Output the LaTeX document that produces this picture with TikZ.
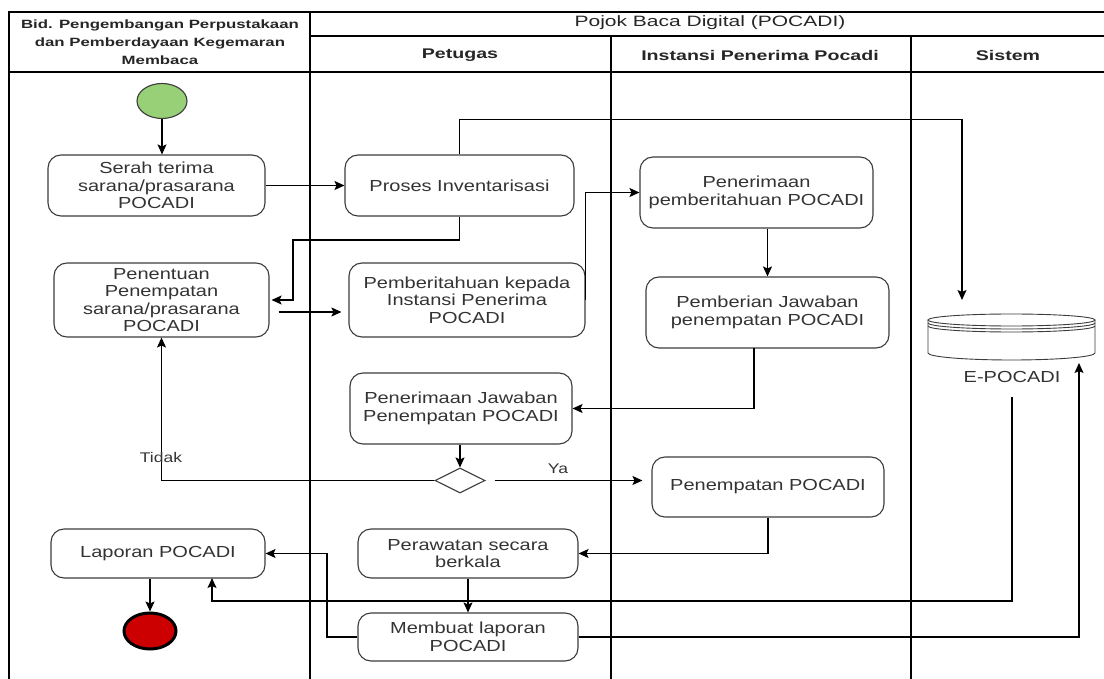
\documentclass[tikz,border=0pt]{standalone}
\usepackage{fontspec}
\setmainfont{Liberation Sans}[FakeStretch=1.25]
\newfontfamily\hdrfont{Liberation Sans}[FakeStretch=1.4]
\usetikzlibrary{arrows.meta,shapes.geometric,calc}
\definecolor{txt}{HTML}{333333}
\definecolor{bord}{HTML}{3C3C3C}
\definecolor{startg}{HTML}{97D077}
\definecolor{endr}{HTML}{CC0000}
\begin{document}
\begin{tikzpicture}[x=1pt,y=-1pt,
  lane/.style={line width=1.4pt, draw=black},
  box/.style={draw=bord, line width=1.1pt, rounded corners=13pt, align=center, text=txt, inner sep=0pt, font=\fontsize{16}{17.6}\selectfont},
  con/.style={line width=1.1pt, draw=black},
  arr/.style={con, -{Stealth[length=10pt,width=9pt,inset=2pt]}},
  lbl/.style={text=txt, font=\fontsize{14}{16}\selectfont, inner sep=1pt},
  hdr/.style={text=black!85, align=center, inner sep=0pt},
  dbline/.style={draw=bord, line width=0.9pt}
]
\path[use as bounding box] (0,0) rectangle (1104,679);

% swimlanes
\draw[lane] (9,679) -- (9,12) -- (1104,12);
\draw[lane] (310,12) -- (310,679);
\draw[lane] (611,36) -- (611,679);
\draw[lane] (911,36) -- (911,679);
\draw[lane] (310,36) -- (1104,36);
\draw[lane] (9,72) -- (1104,72);

\node[hdr, font=\hdrfont\bfseries\fontsize{12}{18}\selectfont] (hbid) at (160,42) {Bid. Pengembangan Perpustakaan\\dan Pemberdayaan Kegemaran\\Membaca};
\node[hdr, font=\hdrfont\fontsize{15}{16}\selectfont] (hpojok) at (710,23) {Pojok Baca Digital (POCADI)};
\node[hdr, font=\hdrfont\bfseries\fontsize{14}{16}\selectfont] (hpetugas) at (460,55) {Petugas};
\node[hdr, font=\hdrfont\bfseries\fontsize{14}{16}\selectfont] (hinstansi) at (760,55) {Instansi Penerima Pocadi};
\node[hdr, font=\hdrfont\bfseries\fontsize{14}{16}\selectfont] (hsistem) at (1008,55) {Sistem};

% start / end
\node[ellipse, draw=bord, line width=1.1pt, fill=startg, minimum width=50pt, minimum height=35pt, inner sep=0pt] (start) at (162,101) {};
\node[ellipse, draw=black, line width=3pt, fill=endr, minimum width=52pt, minimum height=36pt, inner sep=0pt] (end) at (150,631) {};

% activities
\node[box, minimum width=217pt, minimum height=61pt] (serah) at (156.5,185.5) {Serah terima\\sarana/prasarana\\POCADI};
\node[box, minimum width=229pt, minimum height=61pt] (proses) at (459.5,185.5) {Proses Inventarisasi};
\node[box, minimum width=233pt, minimum height=71pt] (pp) at (756.5,192.5) {Penerimaan\\pemberitahuan POCADI};
\node[box, minimum width=215pt, minimum height=74pt] (penentuan) at (161.5,300) {Penentuan\\Penempatan\\sarana/prasarana\\POCADI};
\node[box, minimum width=236pt, minimum height=74pt] (pb) at (467,300) {Pemberitahuan kepada\\Instansi Penerima\\POCADI};
\node[box, minimum width=243pt, minimum height=71pt] (pj) at (767.5,312.5) {Pemberian Jawaban\\penempatan POCADI};
\node[box, minimum width=222pt, minimum height=71pt] (pjp) at (461,408.5) {Penerimaan Jawaban\\Penempatan POCADI};
\node[diamond, draw=bord, line width=1.1pt, minimum width=50pt, minimum height=25pt, inner sep=0pt] (dia) at (460,480.5) {};
\node[box, minimum width=232pt, minimum height=60pt] (pen) at (768,487) {Penempatan POCADI};
\node[box, minimum width=214pt, minimum height=49pt] (lap) at (158,553.5) {Laporan POCADI};
\node[box, minimum width=220pt, minimum height=49pt] (per) at (468,553.5) {Perawatan secara\\berkala};
\node[box, minimum width=220pt, minimum height=48pt] (mem) at (468,637) {Membuat laporan\\POCADI};

% data store E-POCADI
\node[minimum width=167pt, minimum height=47pt, inner sep=0pt] (db) at (1011.5,336.5) {};
\draw[dbline, fill=white] (928,320) -- (928,353) arc[start angle=180, end angle=360, x radius=83.5pt, y radius=7pt] -- (1095,320);
\draw[dbline, fill=white] (1011.5,320) ellipse [x radius=83.5pt, y radius=6pt];
\draw[dbline] (928,323) arc[start angle=180, end angle=360, x radius=83.5pt, y radius=6pt];
\draw[dbline] (928,326) arc[start angle=180, end angle=360, x radius=83.5pt, y radius=6pt];
\node[lbl, font=\fontsize{16}{17}\selectfont] (dblabel) at (1012,377) {E-POCADI};

% helper coordinates
\coordinate (dbin) at (962,313);
\coordinate (dbout) at (1012,397);
\coordinate (dbr) at (1079,363);
\coordinate (c1) at (293,240);
\coordinate (c2) at (754,348);
\coordinate (c3) at (327,637);
\coordinate (c4) at (212,601);
\coordinate (c5) at (212,578);
\coordinate (c6) at (1079,637);

% connectors
\draw[arr] (start.south) -- (start.south |- serah.north);
\draw[arr] (serah.east) -- (proses.west);
\draw[arr, shorten >=13pt] (proses.north) -- ++(0,-35) -| (dbin);
\draw[arr, shorten >=2pt] (proses.south) |- (c1) |- (penentuan.east);
\draw[arr, shorten <=9pt, shorten >=7pt] (penentuan.east |- 0,312) -- (pb.west |- 0,312);
\draw[arr] (pb.east) |- (pp.west);
\draw[arr] (pp.south -| pj.north) -- (pj.north);
\draw[arr] (c2) |- (pjp.east);
\draw[arr] (pjp.south -| dia.north) -- (dia.north);
\draw[arr] (dia.west) -| (penentuan.south);
\node[lbl] (tidak) at (161,457) {Tidak};
\draw[arr, shorten <=9pt, shorten >=9pt] (dia.east) -- (pen.west |- dia.east);
\node[lbl] (ya) at (558,469) {Ya};
\draw[arr] (pen.south) |- (per.east);
\draw[arr] (per.south) -- (mem.north);
\draw[arr] (mem.west) -- (c3) |- (lap.east);
\draw[arr] (dbout) |- (c4) -- (c5);
\draw[arr] (mem.east) -- (c6) -- (dbr);
\draw[arr] (lap.south -| end.north) -- (end.north);
\end{tikzpicture}
\end{document}
